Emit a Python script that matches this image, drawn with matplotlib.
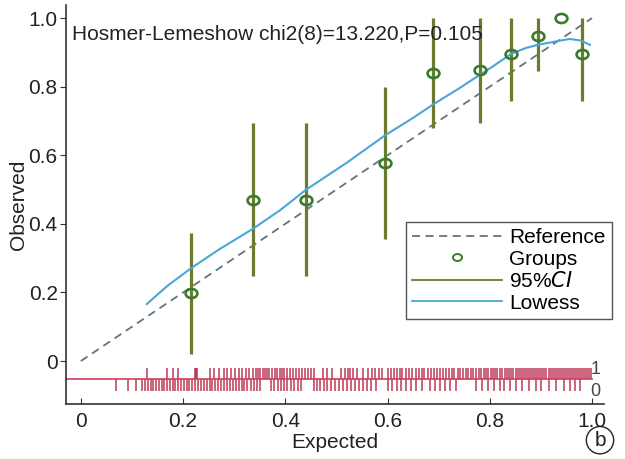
import numpy as np
import matplotlib
matplotlib.use("Agg")
import matplotlib.pyplot as plt
from matplotlib.path import Path
from matplotlib.lines import Line2D

plt.rcParams['font.family'] = ['Liberation Sans', 'DejaVu Sans']

# groups (deciles) and their 95% CI
gx = [0.216, 0.336, 0.441, 0.596, 0.689, 0.780, 0.842, 0.894, 0.940, 0.980]
gy = [0.198, 0.471, 0.471, 0.578, 0.841, 0.849, 0.895, 0.948, 1.000, 0.895]
ci_lo = [0.022, 0.247, 0.247, 0.356, 0.680, 0.693, 0.758, 0.847, 1.000, 0.758]
ci_hi = [0.373, 0.695, 0.695, 0.798, 1.000, 1.000, 1.000, 1.000, 1.000, 1.000]

# lowess smoother
lw_x = [0.129, 0.170, 0.216, 0.270, 0.336, 0.390, 0.441, 0.520, 0.596, 0.650, 0.689,
        0.740, 0.780, 0.801, 0.842, 0.871, 0.894, 0.940, 0.956, 0.977, 0.996]
lw_y = [0.166, 0.220, 0.271, 0.325, 0.385, 0.440, 0.500, 0.578, 0.659, 0.709, 0.748,
        0.795, 0.834, 0.854, 0.896, 0.913, 0.922, 0.935, 0.939, 0.935, 0.922]

# rug: expected prob. of observed outcome 1 / outcome 0
rug1 = [0.129, 0.169, 0.181, 0.190, 0.223, 0.226, 0.228, 0.253, 0.261, 0.271, 0.280,
        0.285, 0.294, 0.302, 0.309, 0.315, 0.323, 0.329, 0.337, 0.342, 0.347, 0.351,
        0.356, 0.360, 0.365, 0.369, 0.374, 0.379, 0.384, 0.389, 0.394, 0.398, 0.404,
        0.409, 0.415, 0.421, 0.426, 0.432, 0.438, 0.445, 0.451, 0.456, 0.474, 0.481,
        0.492, 0.509, 0.517, 0.522, 0.527, 0.533, 0.541, 0.552, 0.562, 0.569, 0.576,
        0.583, 0.590, 0.601, 0.607, 0.612, 0.618, 0.624, 0.629, 0.636, 0.642, 0.648,
        0.655, 0.661, 0.667, 0.672, 0.679, 0.685, 0.690, 0.697, 0.703, 0.709, 0.715,
        0.720, 0.726, 0.731, 0.737, 0.742, 0.748, 0.753, 0.758, 0.763, 0.768, 0.773,
        0.778, 0.783, 0.788, 0.793, 0.797, 0.802, 0.806, 0.811, 0.815, 0.820, 0.824,
        0.829, 0.833, 0.838, 0.842, 0.846, 0.851, 0.855, 0.859, 0.863, 0.867, 0.871,
        0.875, 0.879, 0.883, 0.887, 0.891, 0.895, 0.899, 0.903, 0.907, 0.911, 0.915,
        0.919, 0.923, 0.927, 0.931, 0.935, 0.939, 0.943, 0.947, 0.951, 0.955, 0.959,
        0.963, 0.967, 0.971, 0.975, 0.979, 0.983, 0.987, 0.991, 0.995, 0.998]
rug0 = [0.068, 0.092, 0.108, 0.120, 0.126, 0.131, 0.137, 0.142, 0.148, 0.153, 0.158,
        0.163, 0.169, 0.174, 0.180, 0.185, 0.190, 0.196, 0.201, 0.207, 0.212, 0.218,
        0.224, 0.229, 0.235, 0.240, 0.246, 0.252, 0.257, 0.263, 0.268, 0.274, 0.280,
        0.286, 0.291, 0.297, 0.303, 0.309, 0.315, 0.320, 0.326, 0.332, 0.338, 0.344,
        0.350, 0.372, 0.378, 0.385, 0.391, 0.398, 0.404, 0.411, 0.418, 0.425, 0.430,
        0.456, 0.462, 0.468, 0.475, 0.482, 0.490, 0.497, 0.505, 0.513, 0.520, 0.528,
        0.536, 0.544, 0.552, 0.560, 0.568, 0.577, 0.600, 0.609, 0.618, 0.627, 0.636,
        0.645, 0.655, 0.667, 0.683, 0.692, 0.702, 0.712, 0.722, 0.734, 0.773, 0.785,
        0.797, 0.808, 0.820, 0.828, 0.840, 0.852, 0.864, 0.876, 0.890, 0.900, 0.915,
        0.930, 0.945, 0.957, 0.966, 0.976]

hl_text = "Hosmer-Lemeshow chi2(8)=13.220,P=0.105"

c_ref = '#627480'
c_grp = '#3c7a2c'
c_ci = '#6c7b30'
c_low = '#4aa5d8'
c_rug = '#b31c3c'

fig = plt.figure(figsize=(6.25, 4.59), dpi=100)
ax = fig.add_axes([0.1056, 0.12, 0.8604, 0.869])

# reference line
ax.plot([0, 1], [0, 1], color=c_ref, lw=1.3, ls=(0, (4.5, 3)), zorder=2)

# CI bars
ax.vlines(gx, ci_lo, ci_hi, color=c_ci, lw=2.3, zorder=3)

# lowess
ax.plot(lw_x, lw_y, color=c_low, lw=1.5, zorder=4)

# ellipse marker for groups
circ = Path.unit_circle()
ell = Path(circ.vertices * np.array([1.3, 1.0]), circ.codes)
ax.plot(gx, gy, ls='none', marker=ell, ms=8.5, mfc='none', mec=c_grp, mew=1.9, zorder=5)

# rug
ybase = -0.052
ax.vlines(rug1, ybase, -0.020, color=c_rug, lw=1.2, alpha=0.8, zorder=2)
ax.vlines(rug0, -0.086, ybase, color=c_rug, lw=1.2, alpha=0.8, zorder=2)
ax.plot([-0.029, 1.0], [ybase, ybase], color='#d43c5a', lw=1.2, zorder=2)
ax.text(0.997, -0.025, "1", fontsize=13, color='#444444', ha='left', va='center')
ax.text(0.997, -0.088, "0", fontsize=13, color='#444444', ha='left', va='center')

ax.text(-0.018, 0.953, hl_text, fontsize=15, color='#222222', ha='left', va='center')

ax.set_xlim(-0.029, 1.023)
ax.set_ylim(-0.125, 1.038)
ticks = [0, 0.2, 0.4, 0.6, 0.8, 1.0]
tlab = ['0', '0.2', '0.4', '0.6', '0.8', '1.0']
ax.set_xticks(ticks)
ax.set_xticklabels(tlab)
ax.set_yticks(ticks)
ax.set_yticklabels(tlab)
ax.tick_params(axis='x', direction='in', length=4, labelsize=15, pad=6, colors='#333333', labelcolor='#222222')
ax.tick_params(axis='y', direction='out', length=4, labelsize=15, pad=2, colors='#333333', labelcolor='#222222')
for s in ['top', 'right']:
    ax.spines[s].set_visible(False)
for s in ['left', 'bottom']:
    ax.spines[s].set_color('#333333')
    ax.spines[s].set_linewidth(1.2)

ax.set_xlabel("Expected", fontsize=15, color='#222222', labelpad=1)
ax.set_ylabel("Observed", fontsize=15, color='#222222', labelpad=0.5)

handles = [
    Line2D([], [], color=c_ref, lw=1.3, ls=(0, (4.5, 3))),
    Line2D([], [], ls='none', marker=ell, ms=6.5, mfc='none', mec=c_grp, mew=1.4),
    Line2D([], [], color=c_ci, lw=1.3),
    Line2D([], [], color=c_low, lw=1.3),
]
labels = ["Reference", "Groups", "95%$\\it{CI}$", "Lowess"]
leg = ax.legend(handles, labels, loc='upper right', bbox_to_anchor=(1.015, 0.456),
                borderaxespad=0, fontsize=15, handlelength=4.3, handletextpad=0.35,
                labelspacing=0.12, borderpad=0.3, fancybox=False, framealpha=1)
leg.get_frame().set_edgecolor('#555555')
leg.get_frame().set_linewidth(1.0)

fig.text(0.960, 0.041, "b", fontsize=15, ha='center', va='center', color='#222222',
         bbox=dict(boxstyle='circle,pad=0.2', fc='white', ec='#222222', lw=1.0))

fig.savefig("out.png", dpi=100)
